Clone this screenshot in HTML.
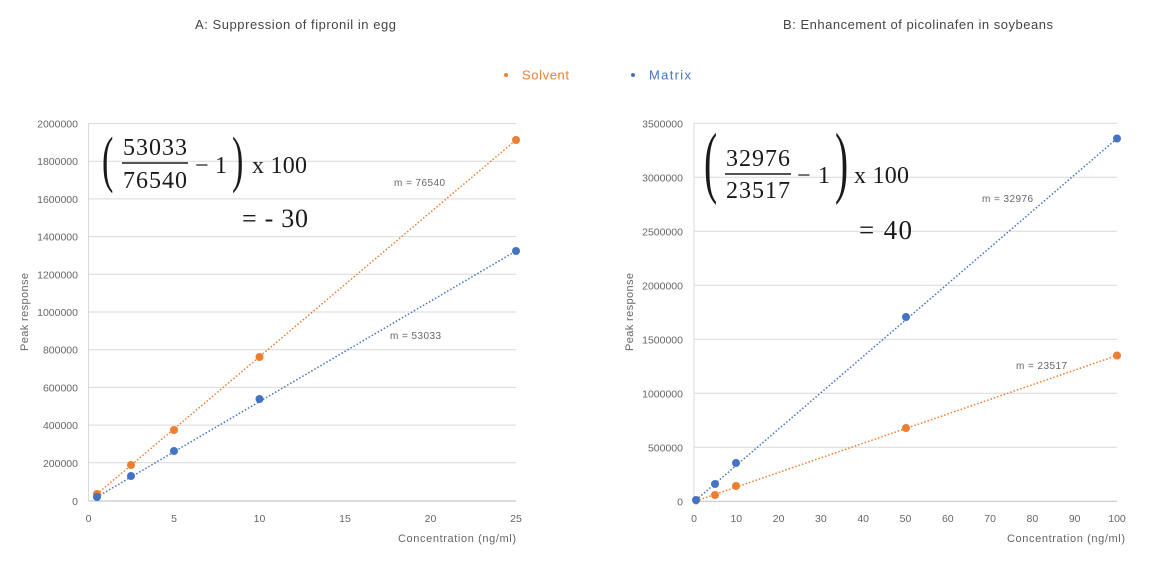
<!DOCTYPE html>
<html><head><meta charset="utf-8"><style>
html,body{margin:0;padding:0;background:#fff;}
svg{display:block;}
text{font-family:"Liberation Sans",sans-serif;}
.tk{font-size:10.5px;fill:#666;}
.ax{font-size:11px;fill:#666;}
.ttl{font-size:13px;fill:#444;}
.m{font-size:10px;fill:#666;}
.eq text{font-family:"Liberation Serif",serif;fill:#1a1a1a;}
</style></head><body>
<svg width="1171" height="568" viewBox="0 0 1171 568" xmlns="http://www.w3.org/2000/svg">
<rect width="1171" height="568" fill="#fff"/>
<!-- Titles -->
<text class="ttl" x="195" y="29" textLength="201">A: Suppression of fipronil in egg</text>
<text class="ttl" x="783" y="29" textLength="270">B: Enhancement of picolinafen in soybeans</text>
<!-- Legend -->
<circle cx="506" cy="75" r="2" fill="#ED7D31"/>
<text x="522" y="79.5" font-size="13" fill="#ED7D31" textLength="47">Solvent</text>
<circle cx="633" cy="75" r="2" fill="#4472C4"/>
<text x="649" y="79.5" font-size="13" fill="#4472C4" textLength="42">Matrix</text>

<!-- LEFT CHART -->
<g stroke="#d9d9d9" stroke-width="1">
<line x1="88.5" y1="123.5" x2="516" y2="123.5"/>
<line x1="88.5" y1="161.2" x2="516" y2="161.2"/>
<line x1="88.5" y1="198.9" x2="516" y2="198.9"/>
<line x1="88.5" y1="236.6" x2="516" y2="236.6"/>
<line x1="88.5" y1="274.3" x2="516" y2="274.3"/>
<line x1="88.5" y1="312" x2="516" y2="312"/>
<line x1="88.5" y1="349.7" x2="516" y2="349.7"/>
<line x1="88.5" y1="387.4" x2="516" y2="387.4"/>
<line x1="88.5" y1="425.1" x2="516" y2="425.1"/>
<line x1="88.5" y1="462.8" x2="516" y2="462.8"/>
<line x1="88.5" y1="123.5" x2="88.5" y2="501"/>
</g>
<line x1="88.5" y1="501" x2="516" y2="501" stroke="#c8c8c8" stroke-width="1.2"/>
<g class="tk" text-anchor="end">
<text x="78" y="127.5">2000000</text>
<text x="78" y="165.2">1800000</text>
<text x="78" y="202.9">1600000</text>
<text x="78" y="240.6">1400000</text>
<text x="78" y="278.3">1200000</text>
<text x="78" y="316">1000000</text>
<text x="78" y="353.7">800000</text>
<text x="78" y="391.4">600000</text>
<text x="78" y="429.1">400000</text>
<text x="78" y="466.8">200000</text>
<text x="78" y="505">0</text>
</g>
<g class="tk" text-anchor="middle">
<text x="88.5" y="522">0</text>
<text x="174" y="522">5</text>
<text x="259.5" y="522">10</text>
<text x="345" y="522">15</text>
<text x="430.5" y="522">20</text>
<text x="516" y="522">25</text>
</g>
<text class="ax" x="516" y="542" text-anchor="end" textLength="118">Concentration (ng/ml)</text>
<text class="ax" transform="translate(28,312) rotate(-90)" text-anchor="middle" textLength="78">Peak response</text>
<!-- trendlines -->
<line x1="97" y1="494" x2="516" y2="140" stroke="#ED7D31" stroke-width="1.5" stroke-dasharray="1.5 2"/>
<line x1="97" y1="497" x2="516" y2="251" stroke="#4472C4" stroke-width="1.5" stroke-dasharray="1.5 2"/>
<g fill="#ED7D31">
<circle cx="97" cy="494" r="4"/><circle cx="131" cy="465" r="4"/><circle cx="174" cy="430" r="4"/><circle cx="259.5" cy="357" r="4"/><circle cx="516" cy="140" r="4"/>
</g>
<g fill="#4472C4">
<circle cx="97" cy="497" r="4"/><circle cx="131" cy="476" r="4"/><circle cx="174" cy="451" r="4"/><circle cx="259.5" cy="399" r="4"/><circle cx="516" cy="251" r="4"/>
</g>
<text class="m" x="394" y="186" textLength="51">m = 76540</text>
<text class="m" x="390" y="339" textLength="51">m = 53033</text>
<!-- left equation -->
<g class="eq">
<text x="0" y="0" font-size="62" transform="translate(102,180) scale(0.55,1)">(</text>
<text x="155" y="155" font-size="24" text-anchor="middle" textLength="64">53033</text>
<line x1="122" y1="163" x2="188" y2="163" stroke="#1a1a1a" stroke-width="1.6"/>
<text x="155" y="188" font-size="24" text-anchor="middle" textLength="64">76540</text>
<text x="195" y="173" font-size="24" textLength="32">− 1</text>
<text x="0" y="0" font-size="62" transform="translate(232,180) scale(0.55,1)">)</text>
<text x="252" y="173" font-size="24" textLength="55">x 100</text>
<text x="242" y="227" font-size="26" textLength="66">= - 30</text>
</g>

<!-- RIGHT CHART -->
<g stroke="#d9d9d9" stroke-width="1">
<line x1="694" y1="123.3" x2="1117" y2="123.3"/>
<line x1="694" y1="177.3" x2="1117" y2="177.3"/>
<line x1="694" y1="231.3" x2="1117" y2="231.3"/>
<line x1="694" y1="285.3" x2="1117" y2="285.3"/>
<line x1="694" y1="339.3" x2="1117" y2="339.3"/>
<line x1="694" y1="393.3" x2="1117" y2="393.3"/>
<line x1="694" y1="447.3" x2="1117" y2="447.3"/>
<line x1="694" y1="123.3" x2="694" y2="501.3"/>
</g>
<line x1="694" y1="501.3" x2="1117" y2="501.3" stroke="#c8c8c8" stroke-width="1.2"/>
<g class="tk" text-anchor="end">
<text x="683" y="127.3">3500000</text>
<text x="683" y="181.3">3000000</text>
<text x="683" y="235.3">2500000</text>
<text x="683" y="289.3">2000000</text>
<text x="683" y="343.3">1500000</text>
<text x="683" y="397.3">1000000</text>
<text x="683" y="451.3">500000</text>
<text x="683" y="505.3">0</text>
</g>
<g class="tk" text-anchor="middle">
<text x="694" y="522">0</text>
<text x="736.3" y="522">10</text>
<text x="778.6" y="522">20</text>
<text x="820.9" y="522">30</text>
<text x="863.2" y="522">40</text>
<text x="905.5" y="522">50</text>
<text x="947.8" y="522">60</text>
<text x="990.1" y="522">70</text>
<text x="1032.4" y="522">80</text>
<text x="1074.7" y="522">90</text>
<text x="1117" y="522">100</text>
</g>
<text class="ax" x="1125" y="542" text-anchor="end" textLength="118">Concentration (ng/ml)</text>
<text class="ax" transform="translate(633,312) rotate(-90)" text-anchor="middle" textLength="78">Peak response</text>
<line x1="696" y1="500" x2="1117" y2="138.5" stroke="#4472C4" stroke-width="1.5" stroke-dasharray="1.5 2"/>
<line x1="696" y1="501" x2="1117" y2="355.5" stroke="#ED7D31" stroke-width="1.5" stroke-dasharray="1.5 2"/>
<g fill="#ED7D31">
<circle cx="696" cy="501" r="3.5"/><circle cx="715" cy="495" r="4"/><circle cx="736" cy="486" r="4"/><circle cx="906" cy="428" r="4"/><circle cx="1117" cy="355.5" r="4"/>
</g>
<g fill="#4472C4">
<circle cx="696" cy="500" r="4"/><circle cx="715" cy="484" r="4"/><circle cx="736" cy="463" r="4"/><circle cx="906" cy="317" r="4"/><circle cx="1117" cy="138.5" r="4"/>
</g>
<text class="m" x="982" y="202" textLength="51">m = 32976</text>
<text class="m" x="1016" y="369" textLength="51">m = 23517</text>
<!-- right equation -->
<g class="eq">
<text x="0" y="0" font-size="79" transform="translate(704,188) scale(0.5,1)">(</text>
<text x="758" y="166" font-size="24" text-anchor="middle" textLength="64">32976</text>
<line x1="725" y1="174" x2="791" y2="174" stroke="#1a1a1a" stroke-width="1.6"/>
<text x="758" y="198" font-size="24" text-anchor="middle" textLength="64">23517</text>
<text x="797" y="183" font-size="24" textLength="33">− 1</text>
<text x="0" y="0" font-size="79" transform="translate(835,188) scale(0.5,1)">)</text>
<text x="854" y="183" font-size="24" textLength="55">x 100</text>
<text x="859" y="239" font-size="27" textLength="53">= 40</text>
</g>
</svg>
</body></html>
